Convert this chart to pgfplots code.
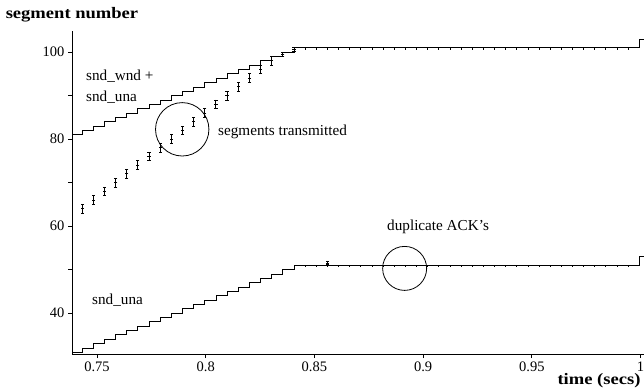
\documentclass[border=0pt]{standalone}
\usepackage{graphicx}
\usepackage{pgfplots}
\pgfplotsset{compat=1.18}
\usepackage{fontspec}
\setmainfont{Liberation Serif}
\begin{document}
\begin{tikzpicture}[font=\fontsize{15.2}{18}\selectfont]
\path[use as bounding box] (0,0) rectangle (644pt,-388pt);
\begin{axis}[
  at={(72pt,-354pt)}, anchor=south west,
  scale only axis, width=572pt, height=323.3pt,
  xmin=0.7385, xmax=1.0016, ymin=30.6, ymax=104.92,
  axis x line*=bottom, axis y line*=left,
  axis line style={line width=0.9pt, -},
  xtick={0.75,0.8,0.85,0.9,0.95,1},
  xticklabels={0.75,0.8,0.85,0.9,0.95,1},
  ytick={40,60,80,100}, minor ytick={50,70,90},
  tick align=outside, major tick length=4pt, minor tick length=4pt,
  tick style={line width=0.8pt, black},
  /pgf/number format/assume math mode=true,
  tick label style={font=\fontsize{14.5}{17}\selectfont},
  xticklabel style={yshift=0pt},
  ylabel={\scalebox{1.16}[1]{\fontsize{16}{19}\selectfont\bfseries segment number}},
  ylabel style={rotate=-90, at={(axis description cs:0,1)}, anchor=base, yshift=11.7pt},
  xlabel={\scalebox{1.16}[1]{\fontsize{16}{19}\selectfont\bfseries time (secs)}},
  xlabel style={at={(axis description cs:1,0)}, anchor=base east, yshift=-30pt},
  clip=false,
]
% snd_wnd + snd_una
\addplot[const plot, line width=0.8pt] coordinates {
(0.7385,81) (0.7432,82) (0.7483,83) (0.7534,84) (0.7586,85) (0.7637,86)
(0.7688,87) (0.7739,88) (0.7791,89) (0.7842,90) (0.7893,91) (0.7944,92)
(0.7996,93) (0.8047,94) (0.8098,95) (0.8149,96) (0.8201,97) (0.8252,98)
(0.8303,99) (0.8354,100) (0.8406,101) (0.9994,103) (1.0016,103)};
% snd_una
\addplot[const plot, line width=0.8pt] coordinates {
(0.7385,31) (0.7432,32) (0.7483,33) (0.7534,34) (0.7586,35) (0.7637,36)
(0.7688,37) (0.7739,38) (0.7791,39) (0.7842,40) (0.7893,41) (0.7944,42)
(0.7996,43) (0.8047,44) (0.8098,45) (0.8149,46) (0.8201,47) (0.8252,48)
(0.8303,49) (0.8354,50) (0.8406,51) (0.9994,53) (1.0016,53)};
% segments transmitted: vertical strokes
\addplot[only marks, mark=|, mark size=2.2pt, mark options={line width=0.9pt}] coordinates {
(0.7432,63.5) (0.7432,64.5) (0.7483,65.5) (0.7483,66.5) (0.7534,67.5) (0.7534,68.5)
(0.7586,69.5) (0.7586,70.5) (0.7637,71.5) (0.7637,72.5) (0.7688,73.5) (0.7688,74.5)
(0.7739,75.5) (0.7739,76.5) (0.7791,77.5) (0.7791,78.5) (0.7842,79.5) (0.7842,80.5)
(0.7893,81.5) (0.7893,82.5) (0.7944,83.5) (0.7944,84.5) (0.7996,85.5) (0.7996,86.5)
(0.8047,87.5) (0.8047,88.5) (0.8098,89.5) (0.8098,90.5) (0.8149,91.5) (0.8149,92.5)
(0.8201,93.5) (0.8201,94.5) (0.8252,95.5) (0.8252,96.5) (0.8303,97.5) (0.8303,98.5)
(0.8354,99.5) (0.8406,100.6) (0.8559,51.5)};
% segments transmitted: cross strokes
\addplot[only marks, mark=-, mark size=1.6pt, mark options={line width=0.9pt}] coordinates {
(0.7432,63) (0.7432,64) (0.7432,65) (0.7483,65) (0.7483,66) (0.7483,67)
(0.7534,67) (0.7534,68) (0.7534,69) (0.7586,69) (0.7586,70) (0.7586,71)
(0.7637,71) (0.7637,72) (0.7637,73) (0.7688,73) (0.7688,74) (0.7688,75)
(0.7739,75) (0.7739,76) (0.7739,77) (0.7791,77) (0.7791,78) (0.7791,79)
(0.7842,79) (0.7842,80) (0.7842,81) (0.7893,81) (0.7893,82) (0.7893,83)
(0.7944,83) (0.7944,84) (0.7944,85) (0.7996,85) (0.7996,86) (0.7996,87)
(0.8047,87) (0.8047,88) (0.8047,89) (0.8098,89) (0.8098,90) (0.8098,91)
(0.8149,91) (0.8149,92) (0.8149,93) (0.8201,93) (0.8201,94) (0.8201,95)
(0.8252,95) (0.8252,96) (0.8252,97) (0.8303,97) (0.8303,98) (0.8303,99)
(0.8354,99) (0.8354,99.5) (0.8354,100) (0.8406,100.1) (0.8406,100.6) (0.8406,101.1)
(0.8559,51.1) (0.8559,51.5) (0.8559,51.9)};
% acks on the flat parts
\addplot[only marks, mark=|, mark size=1.1pt, mark options={line width=0.6pt}] coordinates {
(0.8457,100.8) (0.8508,100.8) (0.8559,100.8) (0.8611,100.8) (0.8662,100.8) (0.8713,100.8)
(0.8764,100.8) (0.8815,100.8) (0.8867,100.8) (0.8918,100.8) (0.8969,100.8) (0.9020,100.8)
(0.9072,100.8) (0.9123,100.8) (0.9174,100.8) (0.9225,100.8) (0.9277,100.8) (0.9328,100.8)
(0.9379,100.8) (0.9430,100.8) (0.9482,100.8) (0.9533,100.8) (0.9584,100.8) (0.9635,100.8)
(0.9687,100.8) (0.9738,100.8) (0.9789,100.8) (0.9840,100.8) (0.9892,100.8) (0.9943,100.8)
(0.8457,50.8) (0.8508,50.8) (0.8559,50.8) (0.8611,50.8) (0.8662,50.8) (0.8713,50.8)
(0.8764,50.8) (0.8815,50.8) (0.8867,50.8) (0.8918,50.8) (0.8969,50.8) (0.9020,50.8)
(0.9072,50.8) (0.9123,50.8) (0.9174,50.8) (0.9225,50.8) (0.9277,50.8) (0.9328,50.8)
(0.9379,50.8) (0.9430,50.8) (0.9482,50.8) (0.9533,50.8) (0.9584,50.8) (0.9635,50.8)
(0.9687,50.8) (0.9738,50.8) (0.9789,50.8) (0.9840,50.8) (0.9892,50.8) (0.9943,50.8)};
% annotations
\draw[line width=0.8pt] (axis cs:0.7892,82.25) circle [radius=26.7pt];
\draw[line width=0.8pt] (axis cs:0.8915,50.28) circle [radius=22pt];
\node[anchor=base west, inner sep=0pt] at (axis cs:0.74494,93.56) {snd\_wnd +};
\node[anchor=base west, inner sep=0pt] at (axis cs:0.74494,88.57) {snd\_una};
\node[anchor=base west, inner sep=0pt] at (axis cs:0.7477,41.95) {snd\_una};
\node[anchor=base west, inner sep=0pt] at (axis cs:0.80566,80.92) {segments transmitted};
\node[anchor=base west, inner sep=0pt] at (axis cs:0.8834,59.08) {duplicate ACK's};
\end{axis}
\end{tikzpicture}
\end{document}
